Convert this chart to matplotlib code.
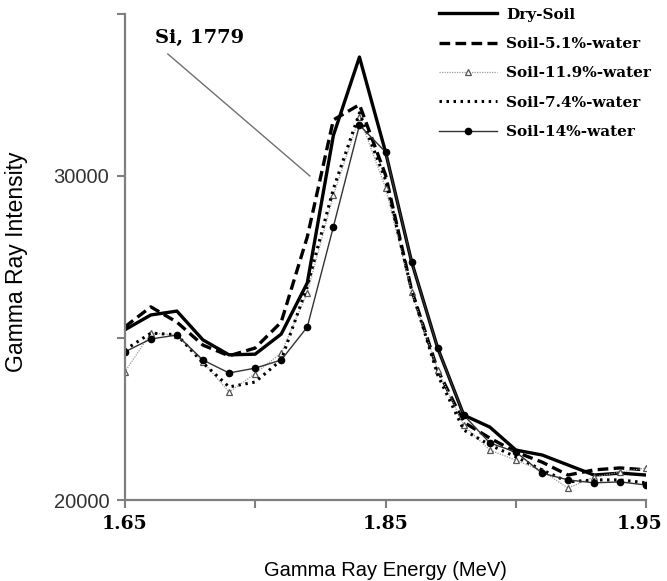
# gamma ray spectrum around the Si 1779 keV peak, soil with different water content

import matplotlib
matplotlib.use('Agg')
import matplotlib.pyplot as plt
import matplotlib.transforms as mtrans
import numpy as np

energy = np.round(np.arange(1.65, 1.9501, 0.015), 3)  # MeV, 21 channels

dry_soil = [25250, 25710, 25830, 24940, 24480, 24500, 25120, 26700, 31250, 33670, 30740,
            27350, 24690, 22620, 22250, 21540, 21390, 21080, 20770, 20830, 20770]
water_5_1 = [25340, 25960, 25490, 24780, 24450, 24690, 25490, 28120, 31730, 32200, 30030,
             26480, 24010, 22400, 21910, 21480, 21170, 20770, 20930, 20990, 20930]
water_11_9 = [23950, 25150, 25090, 24260, 23330, 23900, 24540, 26390, 29400, 31820, 29630,
              26420, 24010, 22300, 21540, 21230, 20900, 20370, 20710, 20860, 20990]
water_7_4 = [24630, 25150, 25100, 24230, 23490, 23640, 24320, 26600, 29600, 31950, 29880,
             26480, 23860, 22160, 21700, 21330, 20930, 20560, 20620, 20620, 20530]
water_14 = [24570, 24970, 25090, 24320, 23920, 24070, 24320, 25340, 28430, 31570, 30740,
            27350, 24690, 22620, 21760, 21480, 20830, 20620, 20530, 20560, 20460]

x_ticks = [1.65, 1.725, 1.8, 1.875, 1.95]
x_labels = ['1.65', '', '1.85', '', '1.95']
y_ticks = [20000, 25000, 30000, 35000]
y_labels = ['20000', '', '30000', '']

fig = plt.figure(figsize=(6.67, 5.81), dpi=100)
ax = fig.add_axes([0.187, 0.1394, 0.782, 0.8366])

ax.plot(energy, dry_soil, color='black', lw=2.4, label='Dry-Soil')
ax.plot(energy, water_5_1, color='black', lw=2.4, ls=(0, (3.2, 1.6)), label='Soil-5.1%-water')
ax.plot(energy, water_11_9, color='#9a9a9a', lw=0.9, ls=(0, (1, 1)), marker='^', ms=4.5,
        mfc='white', mec='#555555', mew=0.9, label='Soil-11.9%-water')
ax.plot(energy, water_7_4, color='black', lw=2.2, ls=(0, (0.8, 1.5)), label='Soil-7.4%-water')
ax.plot(energy, water_14, color='#333333', lw=1.0, marker='o', ms=4.5, mfc='black',
        mec='black', label='Soil-14%-water')

# annotation of the Si line
ax.plot([1.6748, 1.7565], [33764, 30000], color='#707070', lw=1.0)
ax.text(1.6673, 34260, 'Si, 1779', fontsize=14, fontweight='bold', family='DejaVu Serif',
        ha='left', va='center')

ax.set_xlim(1.65, 1.95)
ax.set_ylim(20000, 35000)
ax.set_xticks(x_ticks)
ax.set_xticklabels(x_labels, fontsize=13.5, fontweight='bold', family='DejaVu Serif')
ax.set_yticks(y_ticks)
ax.set_yticklabels(y_labels, fontsize=14.5, color='#333333', family='Liberation Sans')
ax.tick_params(direction='out', length=6, width=1.5, color='#7f7f7f', pad=5)

# last x label sits a bit inside so it is not cut at the figure edge
last = ax.get_xticklabels()[-1]
last.set_transform(last.get_transform() + mtrans.ScaledTranslation(-5 / 72, 0, fig.dpi_scale_trans))

for s in ['top', 'right']:
    ax.spines[s].set_visible(False)
for s in ['left', 'bottom']:
    ax.spines[s].set_color('#7f7f7f')
    ax.spines[s].set_linewidth(1.6)

ax.set_xlabel('Gamma Ray Energy (MeV)', fontsize=14.5, family='Liberation Sans', labelpad=20)
ax.set_ylabel('Gamma Ray Intensity', fontsize=16.5, family='Liberation Sans')
ax.yaxis.set_label_coords(-0.185, 0.49)

ax.legend(loc='upper right', bbox_to_anchor=(1.035, 1.041), frameon=False, handlelength=3.8,
          labelspacing=1.0, handletextpad=0.6,
          prop={'family': 'DejaVu Serif', 'weight': 'bold', 'size': 11})

fig.savefig('out.png', dpi=100)
